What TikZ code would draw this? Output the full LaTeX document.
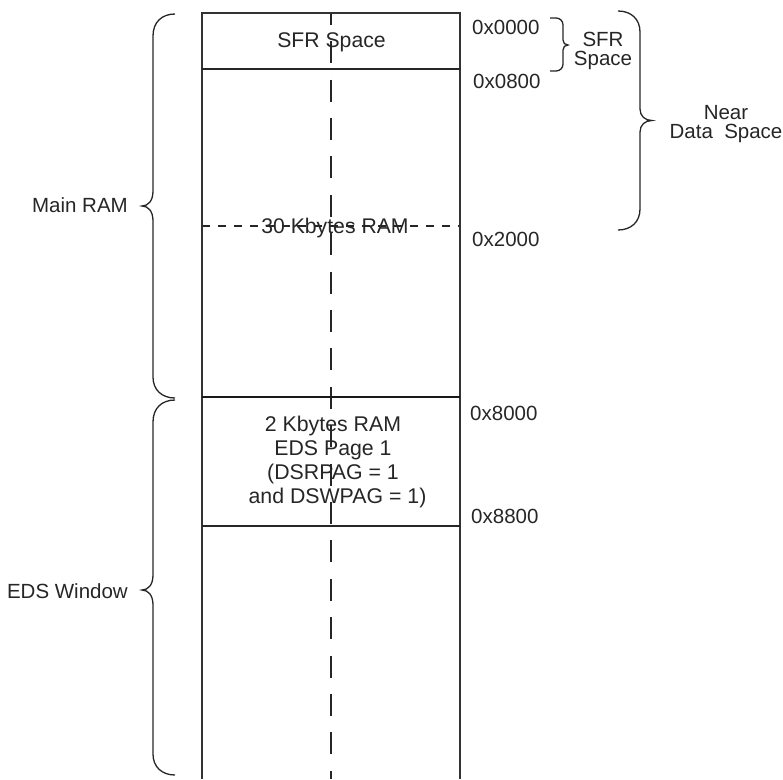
\documentclass[tikz,border=0pt]{standalone}
\usepackage{fontspec}
\setmainfont{Liberation Sans}
\begin{document}
\begin{tikzpicture}[x=1pt,y=-1pt,
  lbl/.style={inner sep=0pt, text=black!85, font=\fontsize{20.5}{19}\selectfont},
  inlbl/.style={lbl, font=\fontsize{21.2}{19}\selectfont},
  blk/.style={lbl, align=center, font=\fontsize{21.3}{23.8}\selectfont},
  wall/.style={draw=black!80, line width=1.3pt},
  sep/.style={draw=black!85, line width=1.5pt},
  septhick/.style={draw=black!90, line width=2pt},
  midline/.style={draw=black!85, line width=1.2pt, dash pattern=on 22pt off 16.4pt, dash phase=10.2pt},
  halfline/.style={draw=black!85, line width=1.3pt, dash pattern=on 8pt off 8pt},
  bracestyle/.style={draw=black!85, line width=1.3pt}
]
\useasboundingbox (0,0) rectangle (783,779);

% memory column corners
\coordinate (tl) at (202,13);
\coordinate (tr) at (460,13);
\coordinate (bl) at (202,779);
\coordinate (br) at (460,779);
\coordinate (sfrL) at (202,69);   \coordinate (sfrR) at (460,69);
\coordinate (kL) at (202,226);    \coordinate (kR) at (460,226);
\coordinate (mL) at (202,397);    \coordinate (mR) at (460,397);
\coordinate (eL) at (202,526);    \coordinate (eR) at (460,526);
\coordinate (cT) at (331,13);     \coordinate (cB) at (331,779);

% centre line
\draw[midline] (cT) -- (cB);
% half-way dashed line
\draw[halfline] (kL) -- (kR);

% walls
\draw[wall] (bl) -- (tl) -- (tr) -- (br);
\draw[sep] (sfrL) -- (sfrR);
\draw[septhick] (mL) -- (mR);
\draw[sep] (eL) -- (eR);

% labels inside the column
\node[inlbl, anchor=base] (sfr) at (331.5,47) {SFR Space};
\node[inlbl, anchor=base] (k30) at (335,233) {30 Kbytes RAM};
\node[blk] (eds1) at (333,462) {2 Kbytes RAM\\EDS Page 1\hspace*{9pt}\\(DSRPAG = 1\\\hspace*{9pt}and DSWPAG = 1)};

% addresses
\node[lbl, anchor=base west] (a0000) at (472,34) {0x0000};
\node[lbl, anchor=base west] (a0800) at (473,88) {0x0800};
\node[lbl, anchor=base west] (a2000) at (472,246) {0x2000};
\node[lbl, anchor=base west] (a8000) at (470,420) {0x8000};
\node[lbl, anchor=base west] (a8800) at (471,523) {0x8800};

% left braces
\draw[bracestyle] (175,14) .. controls (162,14) and (153,22) .. (153,36)
  -- (153,191) .. controls (153,201) and (148,206) .. (142,206)
  .. controls (148,206) and (153,211) .. (153,221)
  -- (153,377) .. controls (153,390) and (162,398) .. (175,398);
\node[lbl, anchor=base east] (mainram) at (128,212) {Main RAM};

\draw[bracestyle] (175,400) .. controls (162,400) and (153,408) .. (153,422)
  -- (153,575) .. controls (153,585) and (148,590) .. (142,590)
  .. controls (148,590) and (153,595) .. (153,605)
  -- (153,754) .. controls (153,767) and (162,775) .. (175,775);
\node[lbl, anchor=base east] (edswin) at (128,598) {EDS Window};

% small SFR brace
\draw[bracestyle] (550,18) -- (556,18) .. controls (560,18) and (563,21) .. (563,25)
  -- (563,40) .. controls (563,43) and (565,45) .. (568,45)
  .. controls (565,45) and (563,47) .. (563,50)
  -- (563,64) .. controls (563,68) and (560,71) .. (556,71) -- (550,71);
\node[lbl, align=center] (sfrsp) at (603,51) {SFR\\Space};

% near data space brace
\draw[bracestyle] (618,11) .. controls (631,11) and (640,19) .. (640,32)
  -- (640,109) .. controls (640,116) and (645,120.5) .. (652,120.5)
  .. controls (645,120.5) and (640,125) .. (640,132)
  -- (640,209) .. controls (640,222) and (631,230) .. (618,230);
\node[lbl, align=center] (nds) at (726,124) {Near\\Data~~Space};

\end{tikzpicture}
\end{document}
